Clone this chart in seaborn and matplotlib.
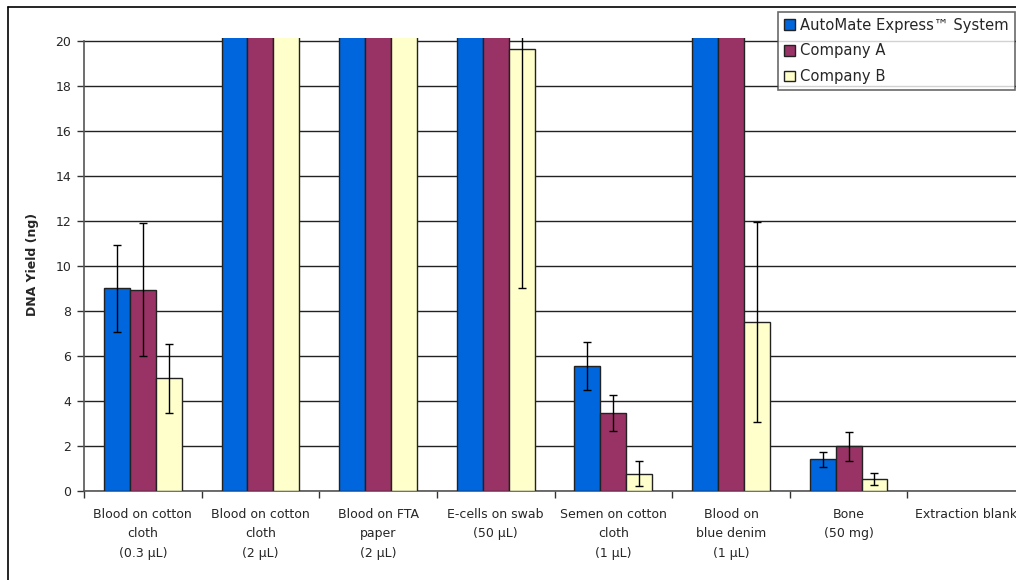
import numpy as np
import pandas as pd
import matplotlib
matplotlib.use('Agg')
import matplotlib.pyplot as plt
from matplotlib.lines import Line2D
from matplotlib.patches import Patch
import seaborn as sns

# 数据（超过20的柱子在原图被截断，这里给个估计值）
samples = ['Blood on cotton\ncloth\n(0.3 µL)', 'Blood on cotton\ncloth\n(2 µL)',
           'Blood on FTA\npaper\n(2 µL)', 'E-cells on swab\n(50 µL)',
           'Semen on cotton\ncloth\n(1 µL)', 'Blood on\nblue denim\n(1 µL)',
           'Bone\n(50 mg)', 'Extraction blank']
series = ['AutoMate Express™ System', 'Company A', 'Company B']

automate = [9.0, 25, 25, 25, 5.55, 25, 1.4, 0]
automate_err = [1.95, np.nan, np.nan, np.nan, 1.05, np.nan, 0.33, 0]
company_a = [8.95, 25, 25, 25, 3.45, 25, 1.98, 0]
company_a_err = [2.95, np.nan, np.nan, np.nan, 0.8, np.nan, 0.65, 0]
company_b = [5.0, 25, 25, 19.63, 0.77, 7.5, 0.53, 0]
company_b_err = [1.55, np.nan, np.nan, 10.6, 0.56, 4.45, 0.28, 0]

colors = ['#0066DD', '#993366', '#FFFFCC']

sns.set_style("white")
plt.rcParams['font.family'] = ['DejaVu Sans']

df = pd.DataFrame({
    'sample': samples * 3,
    'series': [series[0]] * 8 + [series[1]] * 8 + [series[2]] * 8,
    'yield': automate + company_a + company_b,
})
errs = [automate_err, company_a_err, company_b_err]

fig = plt.figure(figsize=(10.16, 5.8), dpi=100)
ax = fig.add_axes([84 / 1016, 1 - 491 / 580, (1025 - 84) / 1016, (491 - 37.6) / 580])

sns.barplot(data=df, x='sample', y='yield', hue='series', order=samples,
            hue_order=series, palette=colors, saturation=1, width=0.66, gap=0,
            edgecolor='#222222', linewidth=1.0, errorbar=None, ax=ax, zorder=3)

# 误差线
for cont, err in zip(ax.containers, errs):
    xs = [b.get_x() + b.get_width() / 2 for b in cont]
    ys = [b.get_height() for b in cont]
    for b in cont:
        if b.get_height() == 0:
            b.set_visible(False)
    e = [np.nan if v == 0 else v for v in err]
    ax.errorbar(xs, ys, yerr=e, fmt='none', ecolor='black', elinewidth=1,
                capsize=2.9, capthick=1, zorder=4)

ax.set_ylim(0, 20.15)
ax.set_xlim(-0.5, 7.5)
ax.set_yticks(range(0, 21, 2))
ax.yaxis.grid(True, color='#222222', linewidth=1)
ax.set_axisbelow(True)
for s in ['top', 'right']:
    ax.spines[s].set_visible(False)
ax.spines['left'].set_color('#555555')
ax.spines['bottom'].set_color('#555555')
ax.spines['left'].set_linewidth(1.2)
ax.spines['bottom'].set_linewidth(1.2)
ax.spines['left'].set_bounds(0, 20)

ax.tick_params(axis='y', left=True, length=5, width=1, color='#333333',
               labelsize=9, pad=4)
ax.tick_params(axis='x', which='major', length=0, labelsize=9, pad=12)
ax.set_xticks(np.arange(-0.5, 8, 1), minor=True)
ax.tick_params(axis='x', which='minor', bottom=True, length=5, width=1, color='#333333')
for t in ax.get_xticklabels():
    t.set_linespacing(1.65)
    t.set_verticalalignment('top')

ax.set_xlabel('')
ax.set_ylabel('DNA Yield (ng)', fontsize=9, fontweight='bold', labelpad=12)

ax.get_legend().remove()
handles = [Patch(facecolor=c, edgecolor='#222222', linewidth=1) for c in colors]
leg = fig.legend(handles, series, loc='upper left',
                 bbox_to_anchor=(778 / 1016, 1 - 12 / 580),
                 frameon=True, fancybox=False, edgecolor='#444444',
                 fontsize=10.6, handlelength=0.75, handleheight=0.75,
                 handletextpad=0.35, labelspacing=0.72, borderpad=0.4,
                 borderaxespad=0)
leg.get_frame().set_linewidth(1.2)

# 外框
fig.add_artist(Line2D([8 / 1016, 8 / 1016], [0, 1 - 7 / 580], color='black', lw=1.2))
fig.add_artist(Line2D([8 / 1016, 1], [1 - 7 / 580, 1 - 7 / 580], color='black', lw=1.2))

plt.savefig('out.png', dpi=100)
